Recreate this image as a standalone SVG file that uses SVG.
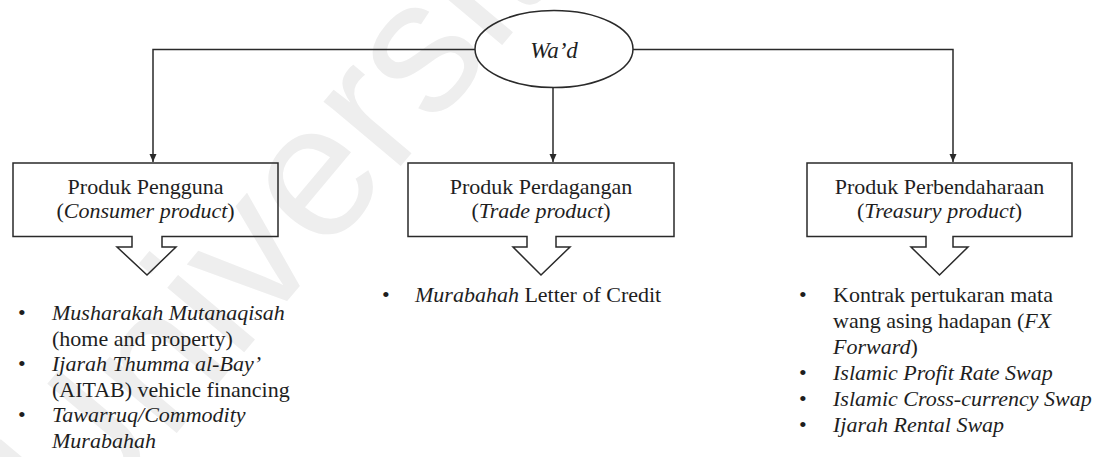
<svg xmlns="http://www.w3.org/2000/svg" width="1106" height="457" viewBox="0 0 1106 457">
<style>
.wm{font-family:"Liberation Sans",Arial,sans-serif;font-size:190px;fill:#eeeeee}
.ln{fill:none;stroke:#2a2a2a;stroke-width:1.5}
.bx{fill:none;stroke:#2a2a2a;stroke-width:1.5}
.t{font-family:"Liberation Serif","Times New Roman",serif;font-size:22px;fill:#1e1e1e}
.c{text-anchor:middle}
.i{font-style:italic}
</style>
<defs>
<marker id="ah" markerUnits="userSpaceOnUse" markerWidth="8" markerHeight="10" viewBox="0 0 8 10" refX="8" refY="4" orient="auto">
<path d="M0,0.5 L8,4 L0,7.5 Z" fill="#2a2a2a"/>
</marker>
</defs>
<rect width="1106" height="457" fill="#fff"/>
<text class="wm" transform="translate(80,548) rotate(-50)">Universiti</text>
<g id="connectors">
<path class="ln" d="M475,49.5 H153 V162" marker-end="url(#ah)"/>
<path class="ln" d="M553,88 V162" marker-end="url(#ah)"/>
<path class="ln" d="M633,49.5 H953 V162" marker-end="url(#ah)"/>
</g>
<g id="wad">
<ellipse class="bx" cx="554" cy="49" rx="79" ry="38.5"/>
<text class="t c i" x="554" y="58" style="font-size:23px">Wa’d</text>
</g>
<g id="consumer">
<path class="bx" d="M13,163 H278 V236.5 H162 V247 H176 L147,275 L117,247 H132 V236.5 H13 Z"/>
<text class="t c" x="145.5" y="194">Produk Pengguna</text>
<text class="t c" x="145.5" y="218">(<tspan class="i">Consumer product</tspan>)</text>
</g>
<g id="trade">
<path class="bx" d="M408,163 H674 V236.5 H556 V247 H570 L541,275 L513,247 H527 V236.5 H408 Z"/>
<text class="t c" x="541" y="194">Produk Perdagangan</text>
<text class="t c" x="541" y="218">(<tspan class="i">Trade product</tspan>)</text>
</g>
<g id="treasury">
<path class="bx" d="M807,163 H1072 V236.5 H953 V247 H968 L939.5,275 L911,247 H926 V236.5 H807 Z"/>
<text class="t c" x="939.5" y="194">Produk Perbendaharaan</text>
<text class="t c" x="939.5" y="218">(<tspan class="i">Treasury product</tspan>)</text>
</g>
<g id="consumer-list">
<text class="t" x="18" y="320">•</text>
<text class="t i" x="52" y="320">Musharakah Mutanaqisah</text>
<text class="t" x="52" y="345.5">(home and property)</text>
<text class="t" x="18" y="371">•</text>
<text class="t i" x="52" y="371">Ijarah Thumma al-Bay’</text>
<text class="t" x="52" y="396.5">(AITAB) vehicle financing</text>
<text class="t" x="18" y="422">•</text>
<text class="t i" x="52" y="422">Tawarruq/Commodity</text>
<text class="t i" x="52" y="447.5">Murabahah</text>
</g>
<g id="trade-list">
<text class="t" x="382" y="302">•</text>
<text class="t" x="415" y="302"><tspan class="i">Murabahah</tspan> Letter of Credit</text>
</g>
<g id="treasury-list">
<text class="t" x="799" y="302">•</text>
<text class="t" x="833" y="302">Kontrak pertukaran mata</text>
<text class="t" x="833" y="328">wang asing hadapan (<tspan class="i">FX</tspan></text>
<text class="t" x="833" y="354"><tspan class="i">Forward</tspan>)</text>
<text class="t" x="799" y="380">•</text>
<text class="t i" x="833" y="380">Islamic Profit Rate Swap</text>
<text class="t" x="799" y="406">•</text>
<text class="t i" x="833" y="406">Islamic Cross-currency Swap</text>
<text class="t" x="799" y="432">•</text>
<text class="t i" x="833" y="432">Ijarah Rental Swap</text>
</g>
</svg>
